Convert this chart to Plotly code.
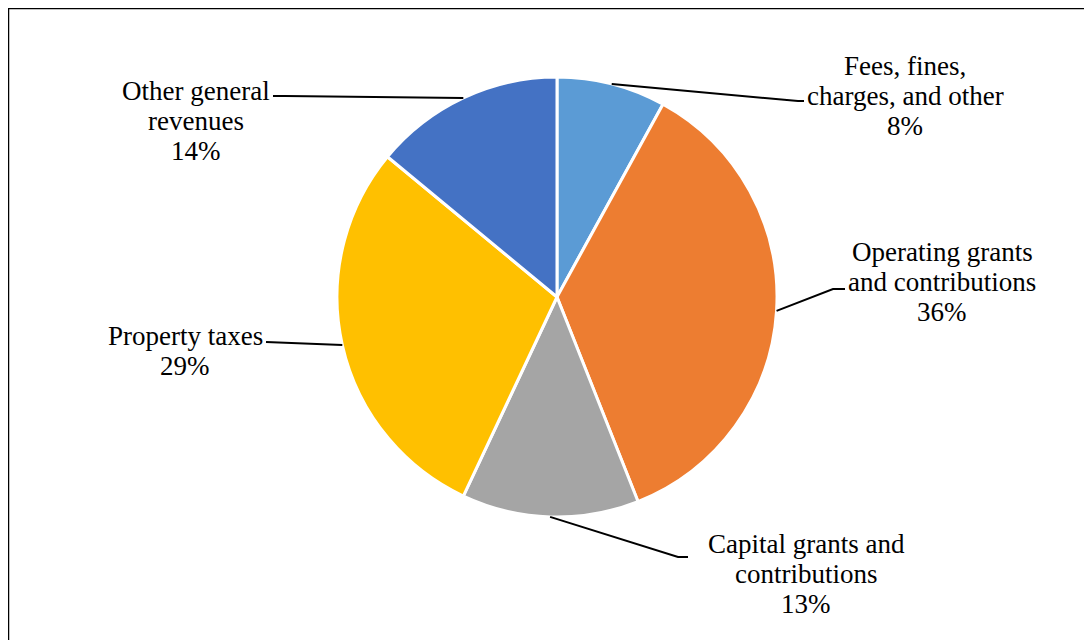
import math
import plotly.graph_objects as go

label_lines = [["Fees, fines,", "charges, and other"],
               ["Operating grants", "and contributions"],
               ["Capital grants and", "contributions"],
               ["Property taxes"],
               ["Other general", "revenues"]]
categories = [" ".join(l) for l in label_lines]
values = [8, 36, 13, 29, 14]
colors = ["#5B9BD5", "#ED7D31", "#A5A5A5", "#FFC000", "#4472C4"]

W, H = 1092, 640
OFF = 8  # browser body margin
CX, CY, R = 557, 297, 220  # pie centre/radius in pixels (screen)

# label placement: text centre x, first-line baseline y (screen px); leader-line elbow points
label_pos = [(905, 72), (942, 258), (806, 550), (185, 342), (196, 97)]
elbows = [[(798, 101), (804, 101)], [(833, 289), (845, 289)], [(678, 557), (688, 557)],
          [(266, 342)], [(285, 96), (273, 96)]]
LINE_GAP = 30
FONT_SIZE = 27

def px(x, y):
    return (x - OFF) / W, 1 - (y - OFF) / H

dx0, dy1 = px(CX - R, CY - R)
dx1, dy0 = px(CX + R, CY + R)
fig = go.Figure(go.Pie(
    values=values, labels=categories, sort=False, direction="clockwise", rotation=0,
    marker=dict(colors=colors, line=dict(color="white", width=3)),
    textinfo="none", hoverinfo="label+percent", showlegend=False,
    domain=dict(x=[dx0, dx1], y=[dy0, dy1]),
))

total = sum(values)
cum = 0
shapes = []
annotations = []
for i, v in enumerate(values):
    mid = (cum + v / 2) / total * 2 * math.pi
    cum += v
    sx, sy = CX + R * math.sin(mid), CY - R * math.cos(mid)
    pts = [(sx, sy)] + elbows[i]
    path = "M " + " L ".join(f"{px(x, y)[0]:.5f},{px(x, y)[1]:.5f}" for x, y in pts)
    shapes.append(dict(type="path", xref="paper", yref="paper", path=path,
                       line=dict(color="black", width=2)))
    pct = round(v / total * 100)
    lines = label_lines[i] + [f"{pct}%"]
    cx, by = label_pos[i]
    for k, t in enumerate(lines):
        lx, ly = px(cx, by + k * LINE_GAP - 6)
        annotations.append(dict(x=lx, y=ly, xref="paper", yref="paper", xanchor="center", yanchor="middle",
                                text=t, showarrow=False, align="center",
                                font=dict(family="Liberation Serif, Times New Roman, serif",
                                          size=FONT_SIZE, color="black")))

fx0, fy1 = px(8, 8)
shapes.append(dict(type="rect", xref="paper", yref="paper", x0=fx0, x1=1.05, y0=-0.1, y1=fy1,
                   line=dict(color="black", width=2.5), fillcolor="rgba(0,0,0,0)", layer="above"))

fig.update_layout(width=W, height=H, margin=dict(l=0, r=0, t=0, b=0),
                  paper_bgcolor="white", plot_bgcolor="white",
                  shapes=shapes, annotations=annotations)
fig.write_html("out.html")
